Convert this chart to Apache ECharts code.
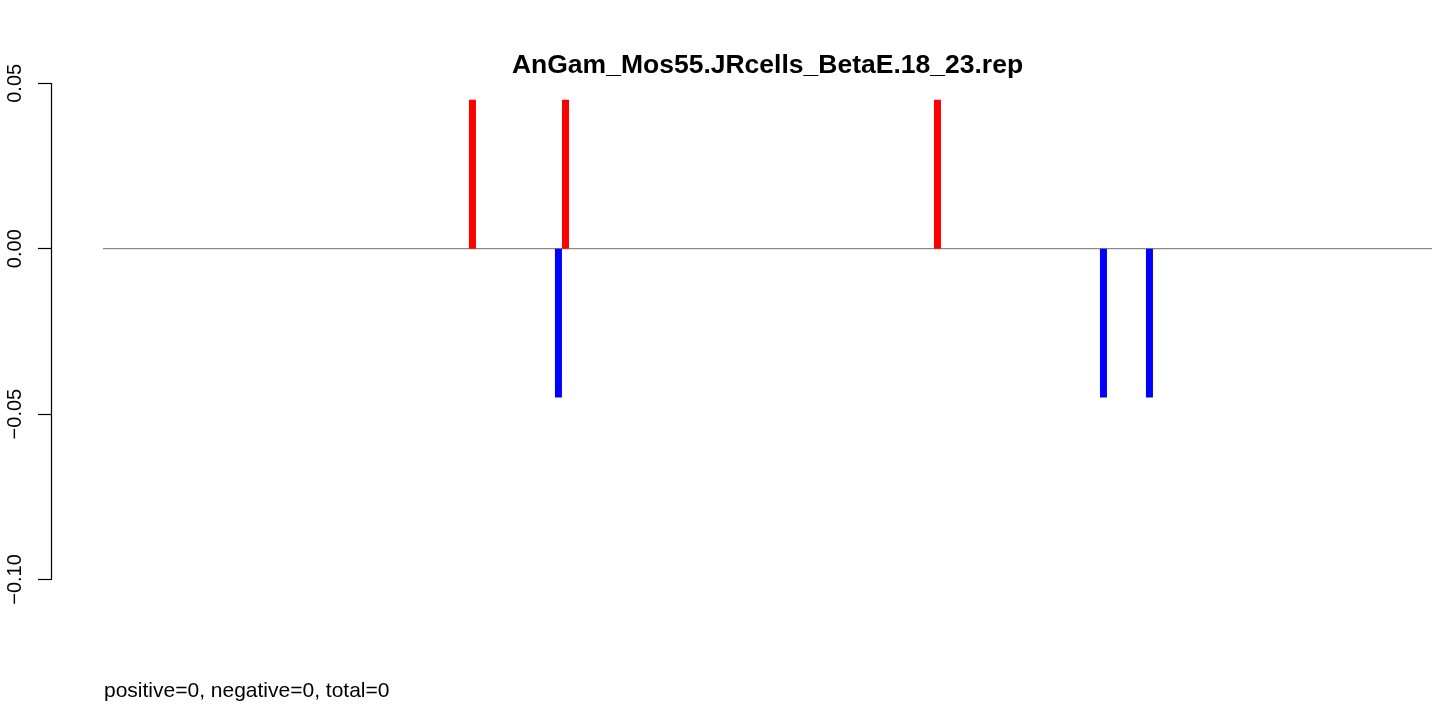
<!DOCTYPE html>
<html>
<head>
<meta charset="utf-8">
<script src="https://cdn.jsdelivr.net/npm/echarts@6/dist/echarts.min.js"></script>
<style>html,body{margin:0;padding:0;background:#fff}#c{width:1452px;height:708px}</style>
</head>
<body>
<div id="c"></div>
<script>
var titleText = "AnGam_Mos55.JRcells_BetaE.18_23.rep";
var footerText = "positive=0, negative=0, total=0";
var yTicks = [-0.10, -0.05, 0.00, 0.05];
var xRange = [0, 100];
var redPositions = [27.80, 34.80, 62.79];
var redValues = [0.045, 0.045, 0.045];
var bluePositions = [34.27, 75.28, 78.74];
var blueValues = [-0.045, -0.045, -0.045];

var chart = echarts.init(document.getElementById('c'), null, {renderer: 'canvas'});
var font = "'Liberation Sans', Arial, Helvetica, sans-serif";
function pairs(xs, ys) { return xs.map(function (x, i) { return [x, ys[i]]; }); }

// layout: y axis line at x=51, zero line spans x=103..1432
var gridLeft = 51, lineLeft = 103, lineRight = 1432;
var pxPerUnit = (lineRight - lineLeft) / (xRange[1] - xRange[0]);
var axisMin = xRange[0] - (lineLeft - gridLeft) / pxPerUnit;

chart.setOption({
  animation: false,
  backgroundColor: '#ffffff',
  title: [
    { text: titleText, left: 762.5, textAlign: 'center', top: 47,
      textStyle: { fontFamily: font, fontWeight: 'bold', fontSize: 26.5, color: '#000' } },
    { text: footerText, left: 99, top: 676,
      textStyle: { fontFamily: font, fontWeight: 'normal', fontSize: 21, color: '#000' } }
  ],
  grid: { left: gridLeft, width: lineRight - gridLeft, top: 83.3, height: 496.2 },
  xAxis: { type: 'value', min: axisMin, max: xRange[1], show: false },
  yAxis: {
    type: 'value', min: yTicks[0], max: yTicks[yTicks.length - 1], interval: 0.05,
    axisLine: { show: true, onZero: false, lineStyle: { color: '#000', width: 1.2 } },
    axisTick: { show: true, length: 13, lineStyle: { color: '#000', width: 1.2 } },
    splitLine: { show: false },
    axisLabel: {
      rotate: 90, margin: 26, fontFamily: font, fontSize: 20, color: '#000',
      formatter: function (v) { return v.toFixed(2).replace('-', '\u2212'); }
    }
  },
  series: [
    { type: 'line', data: pairs(xRange, [0, 0]), symbol: 'none', z: 1,
      lineStyle: { color: '#8a8a8a', width: 1.3 }, silent: true },
    { type: 'bar', data: pairs(redPositions, redValues), barWidth: 7, barGap: '-100%', z: 2,
      itemStyle: { color: '#ff0000' } },
    { type: 'bar', data: pairs(bluePositions, blueValues), barWidth: 7, barGap: '-100%', z: 2,
      itemStyle: { color: '#0000ff' } }
  ]
});
</script>
</body>
</html>
